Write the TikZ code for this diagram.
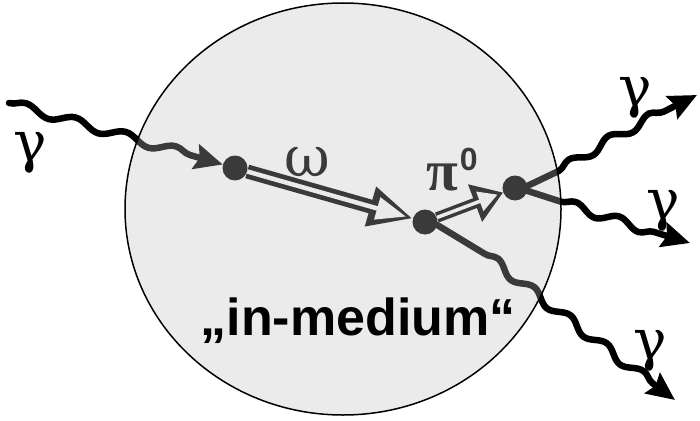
\documentclass[tikz,border=0pt]{standalone}
\usepackage{fontspec}
\setmainfont{Liberation Serif}
\setsansfont{Liberation Sans}
\newfontfamily\greekfont{DejaVu Serif}
\usetikzlibrary{arrows.meta,decorations.pathmorphing}
\tikzset{
  photon/.style={line width=6.5pt, line cap=round, decorate,
    decoration={snake, amplitude=4.5pt, segment length=48pt, post length=24pt},
    -{Stealth[length=28pt,width=25pt,inset=4pt]}},
  vertex/.style={circle, fill, inner sep=0pt, minimum size=25pt},
  omega outer/.style={line width=14pt, -{Triangle[length=44pt,width=38pt]}},
  omega inner/.style={line width=4.5pt, white, shorten >=7pt, -{Triangle[length=30pt,width=22pt]}},
  pion outer/.style={line width=10.5pt, -{Triangle[length=30pt,width=38pt]}},
  pion inner/.style={line width=3.5pt, white, shorten >=6pt, -{Triangle[length=19pt,width=20pt]}},
  greek/.style={inner sep=0pt, font=\greekfont\fontsize{56}{56}\selectfont},
  medium/.style={line width=1.5pt, fill=black!26, fill opacity=.31}
}
\begin{document}
\begin{tikzpicture}[x=1pt,y=-1pt]
\useasboundingbox (0,0) rectangle (700,420);
\node[vertex] (A) at (235,168) {};
\node[vertex] (B) at (425,222) {};
\node[vertex] (C) at (515,188) {};
\coordinate (gin) at (9,103);
\coordinate (gu) at (697,95);
\coordinate (gm) at (690,243);
\coordinate (gl) at (675,400);
\draw[photon, decoration={segment length=52pt}] (gin) -- (A);
\draw[photon, decoration={pre length=35pt, segment length=46pt}] (C) .. controls (550,182) and (565,160) .. (gu);
\draw[photon, decoration={pre length=35pt, segment length=46pt}] (C) .. controls (545,195) and (565,205) .. (gm);
\draw[photon, decoration={pre length=55pt, segment length=46pt}] (B) .. controls (465,232) and (480,255) .. (gl);
\draw[omega outer] (A) -- (B);
\draw[omega inner] (A) -- (B);
\draw[pion outer] (B) -- (C);
\draw[pion inner] (B) -- (C);
\node[greek] (omega) at (307,162) {ω};
\node[anchor=base west, inner sep=0pt] (pion) at (426,190) {\fontsize{58}{58}\selectfont\bfseries π\hspace{2pt}\raisebox{20pt}{\sffamily\fontsize{32}{32}\selectfont 0}};
\draw[medium] (343,209) ellipse[x radius=218pt, y radius=206pt];
\node[font=\sffamily\bfseries\fontsize{52}{52}\selectfont, anchor=base] (label) at (358,335) {„in-medium“};
\node[greek] (gamma in) at (30,153) {γ};
\node[greek] (gamma u) at (635,98) {γ};
\node[greek] (gamma m) at (663,211) {γ};
\node[greek] (gamma l) at (650,351) {γ};
\end{tikzpicture}
\end{document}
